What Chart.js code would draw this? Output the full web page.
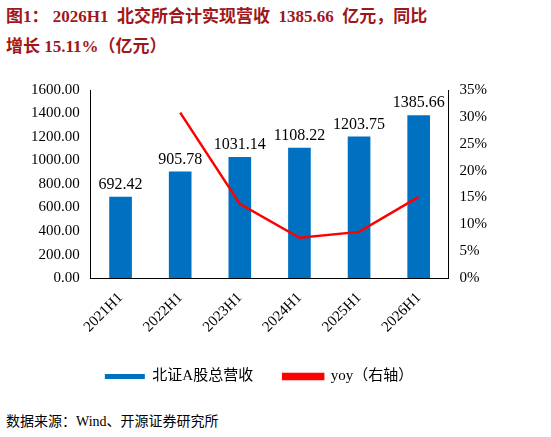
<!DOCTYPE html>
<html><head><meta charset="utf-8">
<script src="https://cdn.jsdelivr.net/npm/chart.js@4/dist/chart.umd.min.js"></script>
<style>
body{margin:0;width:551px;height:437px;background:#fff;position:relative;overflow:hidden;font-family:"Liberation Serif","Noto Sans CJK SC",serif}
#t{position:absolute;left:6px;top:2px;width:545px;font-weight:bold;font-size:17px;line-height:30px;color:#A0171B;white-space:nowrap;font-family:"Liberation Serif","Noto Sans CJK SC",serif}
#f{position:absolute;left:6px;top:410px;font-size:14px;color:#000;font-family:"Liberation Serif","Noto Sans CJK SC",serif}
#c{position:absolute;left:28px;top:78px;width:462px;height:316px}
</style></head><body>
<div id="t">图1：&nbsp;2026H1&nbsp; 北交所合计实现营收&nbsp; 1385.66&nbsp; 亿元，同比<br>增长 15.11%（亿元）</div>
<div id="c"><canvas id="cv"></canvas></div>
<div id="f">数据来源：Wind、开源证券研究所</div>
<script>
const categories=["2021H1","2022H1","2023H1","2024H1","2025H1","2026H1"];
const revenue=[692.42,905.78,1031.14,1108.22,1203.75,1385.66];
const yoy=[null,30.8,13.8,7.5,8.6,15.11];
const font="'Liberation Serif','Noto Sans CJK SC',serif";
const labelPlugin={id:'lbl',afterDatasetsDraw(ch){const c=ch.ctx;const m=ch.getDatasetMeta(1);c.save();c.font="16px "+font;c.fillStyle="#000";c.textAlign="center";c.textBaseline="bottom";m.data.forEach((b,i)=>{c.fillText(revenue[i].toFixed(2),b.x,b.y-4);});c.restore();}};
new Chart(document.getElementById('cv'),{
data:{labels:categories,datasets:[
{type:'line',label:'yoy（右轴）',data:yoy,borderColor:'#FF0000',backgroundColor:'#FF0000',borderWidth:2.5,pointRadius:0,yAxisID:'y1',order:0},
{type:'bar',label:'北证A股总营收',data:revenue,backgroundColor:'#0070C0',yAxisID:'y',barPercentage:0.38,categoryPercentage:1,order:1}
]},
options:{responsive:true,maintainAspectRatio:false,animation:false,
layout:{padding:{top:8,right:0}},
plugins:{legend:{position:'bottom',reverse:true,labels:{font:{family:font,size:15},color:'#000',boxWidth:40,boxHeight:5,padding:30}},tooltip:{enabled:false}},
scales:{
x:{grid:{display:false},border:{color:'#000'},ticks:{color:'#000',font:{family:font,size:15},maxRotation:45,minRotation:45}},
y:{min:0,max:1600,grid:{display:false},border:{color:'#000'},ticks:{stepSize:200,color:'#000',font:{family:font,size:15},callback:v=>v.toFixed(2)}},
y1:{position:'right',min:0,max:35,grid:{display:false},border:{color:'#000'},ticks:{stepSize:5,color:'#000',font:{family:font,size:15},callback:v=>v+'%'}}
}}
,plugins:[labelPlugin]});
</script></body></html>
